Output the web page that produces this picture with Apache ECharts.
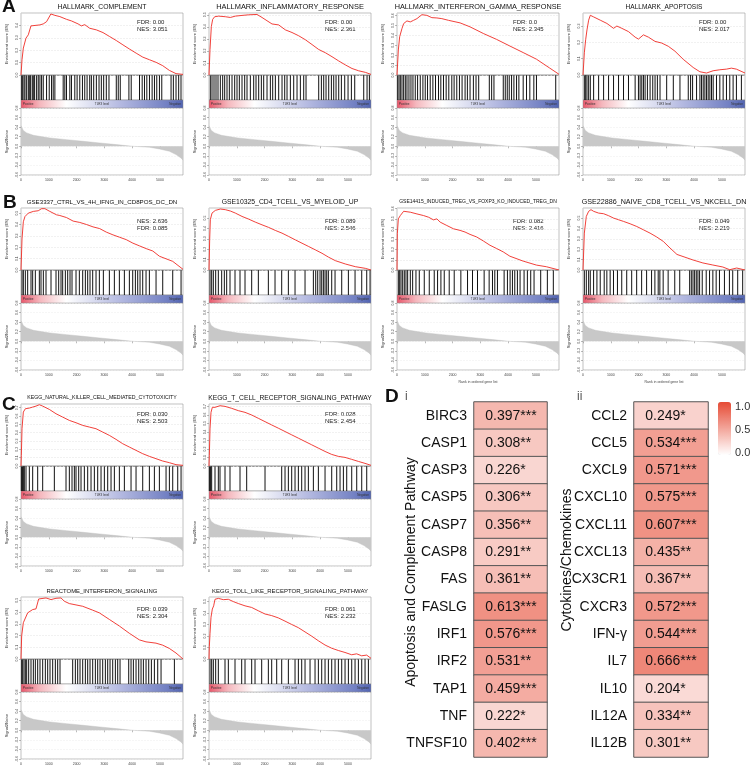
<!DOCTYPE html>
<html>
<head>
<meta charset="utf-8">
<script src="https://cdn.jsdelivr.net/npm/echarts@6/dist/echarts.min.js"></script>
<style>html,body{margin:0;background:#fff}#container{width:753px;height:776px}</style>
</head>
<body>
<div id="container"></div>
<script>
var dom = document.getElementById('container');
var myChart = echarts.init(dom);
var FONT = 'Liberation Sans, Arial, sans-serif';
var RANK_MAX = 5830;

// ---- GSEA data (rank, running enrichment score) ----
var geneSets = ['HALLMARK_COMPLEMENT', 'HALLMARK_INFLAMMATORY_RESPONSE', 'HALLMARK_INTERFERON_GAMMA_RESPONSE', 'HALLMARK_APOPTOSIS',
  'GSE3337_CTRL_VS_4H_IFNG_IN_CD8POS_DC_DN', 'GSE10325_CD4_TCELL_VS_MYELOID_UP', 'GSE14415_INDUCED_TREG_VS_FOXP3_KO_INDUCED_TREG_DN', 'GSE22886_NAIVE_CD8_TCELL_VS_NKCELL_DN',
  'KEGG_NATURAL_KILLER_CELL_MEDIATED_CYTOTOXICITY', 'KEGG_T_CELL_RECEPTOR_SIGNALING_PATHWAY', 'REACTOME_INTERFERON_SIGNALING', 'KEGG_TOLL_LIKE_RECEPTOR_SIGNALING_PATHWAY'];
var nesValues = ['3.051', '2.361', '2.345', '2.017', '2.636', '2.546', '2.416', '2.219', '2.503', '2.454', '2.304', '2.232'];
var fdrValues = ['0.00', '0.00', '0.0', '0.00', '0.085', '0.089', '0.082', '0.049', '0.030', '0.028', '0.039', '0.061'];

var esComplement = [[0,0],[36,0.123],[84,0.217],[179,0.297],[263,0.324],[358,0.396],[681,0.404],[800,0.412],[920,0.43],[1075,0.492],[1219,0.481],[1398,0.471],[1637,0.449],[1816,0.436],[2055,0.412],[2174,0.396],[2294,0.406],[2473,0.377],[2712,0.364],[2951,0.342],[3190,0.31],[3429,0.278],[3668,0.243],[3906,0.209],[4145,0.176],[4384,0.144],[4623,0.123],[4862,0.102],[5101,0.075],[5340,0.037],[5579,0.011],[5830,0.005]];
var esInflammatory = [[0,0],[36,0.212],[84,0.402],[132,0.462],[204,0.484],[348,0.489],[588,0.484],[768,0.478],[948,0.489],[1188,0.495],[1428,0.5],[1727,0.503],[1907,0.478],[2087,0.451],[2267,0.424],[2507,0.416],[2747,0.375],[2987,0.353],[3227,0.326],[3467,0.293],[3707,0.253],[3947,0.212],[4187,0.185],[4427,0.152],[4666,0.117],[4906,0.084],[5146,0.054],[5386,0.035],[5626,0.022],[5830,0.005]];
var esIfng = [[0,0],[48,0.253],[96,0.387],[179,0.47],[239,0.52],[358,0.547],[478,0.537],[597,0.553],[717,0.57],[896,0.61],[1075,0.603],[1254,0.58],[1434,0.577],[1613,0.57],[1852,0.553],[2270,0.527],[2628,0.487],[3106,0.42],[3584,0.36],[4062,0.293],[4540,0.227],[5018,0.16],[5496,0.07],[5830,0.007]];
var esApoptosis = [[0,0],[48,0.136],[96,0.216],[143,0.276],[203,0.336],[263,0.366],[382,0.356],[621,0.336],[860,0.316],[1099,0.286],[1219,0.3],[1398,0.286],[1637,0.266],[1876,0.232],[1995,0.22],[2174,0.246],[2354,0.232],[2592,0.206],[2831,0.196],[3070,0.176],[3309,0.146],[3608,0.096],[3966,0.046],[4205,0.02],[4444,0.012],[4683,0.026],[4922,0.032],[5161,0.036],[5340,0.042],[5519,0.036],[5830,0.012]];
var esGse3337 = [[0,0],[36,0.273],[84,0.424],[143,0.47],[263,0.5],[442,0.515],[621,0.521],[741,0.539],[860,0.539],[1039,0.515],[1278,0.485],[1398,0.479],[1458,0.491],[1637,0.461],[1876,0.43],[2115,0.418],[2354,0.4],[2592,0.379],[2831,0.364],[3070,0.333],[3309,0.309],[3548,0.288],[3787,0.267],[4026,0.236],[4265,0.212],[4504,0.188],[4743,0.167],[4982,0.121],[5460,0.076],[5830,0.006]];
var esGse10325 = [[0,0],[24,0.29],[48,0.484],[108,0.548],[228,0.574],[408,0.587],[588,0.581],[768,0.568],[948,0.548],[1188,0.516],[1428,0.49],[1667,0.461],[1907,0.435],[2147,0.41],[2387,0.381],[2627,0.355],[2867,0.323],[3107,0.29],[3347,0.258],[3587,0.226],[3827,0.194],[4067,0.161],[4306,0.123],[4546,0.09],[4906,0.058],[5266,0.032],[5626,0.016],[5830,0]];
var esGse14415 = [[0,0],[12,0.355],[48,0.5],[119,0.532],[239,0.574],[299,0.581],[478,0.565],[717,0.548],[956,0.532],[1135,0.516],[1314,0.49],[1434,0.5],[1553,0.468],[1792,0.435],[2031,0.403],[2270,0.387],[2449,0.371],[2628,0.348],[2867,0.323],[3106,0.284],[3345,0.242],[3584,0.21],[3823,0.177],[4062,0.135],[4540,0.087],[5018,0.048],[5376,0.032],[5830,0]];
var esGse22886 = [[0,0],[48,0.355],[119,0.516],[203,0.565],[287,0.581],[382,0.565],[561,0.548],[741,0.542],[920,0.523],[1099,0.5],[1278,0.484],[1457,0.468],[1696,0.445],[1935,0.419],[2174,0.387],[2413,0.355],[2652,0.318],[2891,0.275],[3130,0.212],[3381,0.15],[3954,0.097],[4313,0.068],[4671,0.048],[5030,0.029],[5280,0.003],[5531,0.019],[5830,0]];
var esNkCyto = [[0,0],[12,0.128],[36,0.448],[84,0.648],[156,0.688],[300,0.696],[420,0.708],[540,0.72],[660,0.736],[780,0.72],[1020,0.68],[1260,0.628],[1499,0.588],[1739,0.548],[1979,0.52],[2219,0.488],[2459,0.468],[2699,0.448],[2939,0.408],[3179,0.368],[3419,0.32],[3659,0.268],[3899,0.228],[4139,0.188],[4379,0.148],[4619,0.116],[4858,0.088],[5098,0.06],[5338,0.04],[5578,0.016],[5830,0.008]];
var esTcr = [[0,0],[12,0.125],[36,0.436],[72,0.63],[120,0.689],[216,0.689],[396,0.708],[576,0.7],[816,0.677],[1056,0.65],[1296,0.63],[1535,0.599],[1775,0.56],[2015,0.521],[2255,0.482],[2495,0.444],[2735,0.405],[2975,0.366],[3215,0.327],[3455,0.288],[3695,0.249],[3935,0.21],[4175,0.171],[4415,0.136],[4655,0.113],[4894,0.101],[5134,0.078],[5374,0.054],[5614,0.031],[5830,0.008]];
var esReactomeIfn = [[0,0],[24,0.197],[84,0.309],[240,0.393],[420,0.421],[540,0.427],[636,0.511],[900,0.52],[1080,0.506],[1260,0.517],[1439,0.52],[1559,0.492],[1739,0.472],[2219,0.449],[2579,0.416],[2819,0.393],[3179,0.337],[3539,0.281],[3899,0.219],[4259,0.163],[4498,0.146],[4858,0.135],[5098,0.118],[5338,0.09],[5578,0.051],[5830,0]];
var esToll = [[0,0],[12,0.108],[36,0.222],[72,0.364],[120,0.435],[168,0.463],[216,0.52],[336,0.528],[516,0.517],[696,0.52],[876,0.5],[1056,0.483],[1296,0.463],[1535,0.449],[1775,0.42],[2015,0.392],[2255,0.378],[2495,0.358],[2735,0.33],[2975,0.301],[3215,0.273],[3455,0.236],[3695,0.199],[3935,0.159],[4175,0.122],[4415,0.094],[4655,0.074],[4894,0.057],[5134,0.037],[5314,0.045],[5494,0.028],[5674,0.034],[5830,0.006]];

// hit positions (rank of each gene set member)
var hitsComplement = [24,60,108,143,203,263,299,346,406,442,490,562,621,681,741,801,920,1016,1099,1159,1219,1518,1577,1637,1757,1816,1936,2019,2115,2211,2294,2378,2473,2533,2616,2712,2808,2891,2975,3070,3166,3429,3500,3572,3883,3966,4265,4361,4444,4528,4623,4719,4803,4886,4982,5066,5400,5483,5579,5674,5758];
var hitsInflammatory = [48,108,180,252,324,408,492,564,648,732,828,924,1008,1092,1188,1284,1368,1488,1608,1692,1788,1884,1968,2088,2208,2292,2388,2508,2628,2724,2808,2928,3048,3168,3288,3408,3492,3948,4044,4128,4212,4308,4404,4488,4572,4668,4764,4884,5004,5124,5244,5568,5688,5772];
var hitsIfng = [24,72,120,179,239,299,359,430,502,574,657,741,837,932,1016,1099,1195,1291,1386,1494,1577,1673,1769,1864,1972,2055,2151,2247,2342,2450,2533,2629,2749,2844,2940,3322,3406,3489,3824,3896,3968,4039,4123,4207,4302,4386,4541,4661,4780,4924,5019,5712];
var hitsApoptosis = [48,96,143,203,263,382,562,741,920,1099,1279,1458,1637,1876,1995,2055,2115,2175,2235,2318,2414,2510,2593,2677,2772,3011,3250,3489,3788,3872,3944,4087,4207,4266,4326,4386,4446,4505,4565,4625,4685,4804,4924,5043,5163,5282,5402,5521,5700];
var hitsGse3337 = [36,84,156,240,360,420,516,660,720,804,900,1080,1260,1356,1440,1500,1596,1680,1764,1836,1980,2100,2220,2316,2400,2484,2580,2700,2820,2964,3180,3360,3540,3720,3900,4020,4116,4200,4284,4380,4500,4620,4860,5100,5460,5760];
var hitsGse10325 = [36,96,156,240,336,456,552,636,756,936,1116,1296,1536,1776,2136,2376,2616,2856,3096,3456,3756,3840,3912,3996,4056,4116,4176,4236,4296,4416,4536,4776,5016,5256,5496,5676,5796];
var hitsGse14415 = [48,96,144,204,263,323,383,479,563,682,802,981,1161,1340,1460,1580,1700,1879,2059,2298,2538,2717,2897,3136,3316,3436,3519,3615,3855,3974,4070,4154,4238,4333,4429,4573,4692,4812,4932,5171,5411,5626];
var hitsGse22886 = [48,119,203,262,381,501,620,763,858,977,1097,1240,1394,1573,1752,1931,2110,2289,2467,2587,2706,2766,2885,3064,3302,3481,3838,3898,3958,4017,4077,4136,4196,4291,4434,4554,4673,4792,4911,5090,5269,5388,5567,5746];
var hitsNkCyto = [12,36,60,84,120,180,300,420,600,780,1200,1620,1740,1836,1920,1980,2076,2160,2280,2400,2520,2640,2760,2880,3000,3120,3240,3360,3540,3720,3960,4140,4380,4620,4800,4980,5220,5340,5460,5640,5760];
var hitsTcr = [12,36,60,96,216,336,396,576,756,1116,1356,2016,2616,2736,2856,2976,3096,3216,3336,3456,3576,3756,3936,4176,4416,4596,4716,4836,4956,5136,5316,5496,5676];
var hitsReactomeIfn = [24,60,108,156,204,276,360,444,516,600,684,780,876,960,1044,1140,1236,1320,1404,1860,1956,2040,2124,2220,2316,2400,2484,2580,2676,2760,2844,2940,3036,3120,3204,3300,3396,3480,3564,3876,3960,4044,4140,4236,4320,4404,4500,4596,4692,4800,4920,5040,5520];
var hitsToll = [36,96,156,240,336,576,696,936,1176,1296,1536,1656,1896,2136,2256,2436,2616,2856,3096,3216,3336,3456,3636,3816,3936,4056,4176,4296,4416,4536,4656,4776,4896,5016,5136,5256,5376,5496,5616,5736];

// ranked list metric (same list for every panel)
var s2nRank = [0, 84, 203, 442, 1039, 1637, 2234, 2832, 3429, 4026, 4623, 4982, 5340, 5579, 5758, 5830];
var s2nValue = [0.43, 0.33, 0.28, 0.23, 0.174, 0.139, 0.104, 0.07, 0.035, 0, -0.02, -0.056, -0.104, -0.174, -0.244, -0.29];

// ---- correlation heatmap (panel D) ----
var apoptosisGenes = ['BIRC3', 'CASP1', 'CASP3', 'CASP5', 'CASP7', 'CASP8', 'FAS', 'FASLG', 'IRF1', 'IRF2', 'TAP1', 'TNF', 'TNFSF10'];
var apoptosisR = [0.397, 0.308, 0.226, 0.306, 0.356, 0.291, 0.361, 0.613, 0.576, 0.531, 0.459, 0.222, 0.402];
var apoptosisSig = ['***', '**', '*', '**', '**', '**', '**', '***', '***', '**', '***', '*', '***'];
var cytokineGenes = ['CCL2', 'CCL5', 'CXCL9', 'CXCL10', 'CXCL11', 'CXCL13', 'CX3CR1', 'CXCR3', 'IFN-γ', 'IL7', 'IL10', 'IL12A', 'IL12B'];
var cytokineR = [0.249, 0.534, 0.571, 0.575, 0.607, 0.435, 0.367, 0.572, 0.544, 0.666, 0.204, 0.334, 0.301];
var cytokineSig = ['*', '***', '***', '***', '***', '**', '**', '***', '***', '***', '*', '**', '**'];

var esSets = [esComplement, esInflammatory, esIfng, esApoptosis, esGse3337, esGse10325, esGse14415, esGse22886, esNkCyto, esTcr, esReactomeIfn, esToll];
var hitSets = [hitsComplement, hitsInflammatory, hitsIfng, hitsApoptosis, hitsGse3337, hitsGse10325, hitsGse14415, hitsGse22886, hitsNkCyto, hitsTcr, hitsReactomeIfn, hitsToll];

// ---- layout ----
var colX = [21, 209, 397, 583];
var rowY = [7, 202, 398, 591];
var statY = [15, 19, 16, 18];
var panelW = 162;
var cells = [[0,0],[1,0],[2,0],[3,0],[0,1],[1,1],[2,1],[3,1],[0,2],[1,2],[0,3],[1,3]];
var titleW = [89, 148, 167, 77, 151, 137, 158, 165, 150, 164, 111, 156];
var esMax = [0.5, 0.515, 0.627, 0.38, 0.545, 0.597, 0.606, 0.597, 0.745, 0.728, 0.528, 0.54];
var statsNesFirst = [false, false, false, false, true, false, false, false, false, false, false, false];

var ctx = document.createElement('canvas').getContext('2d');
function fitFont(text, w) {
    ctx.font = '10px ' + FONT;
    return 10 * w / ctx.measureText(text).width;
}
function txt(x, y, text, size, extra) {
    var style = {text: text, fontSize: size, fontFamily: FONT, fill: '#111', align: 'left', verticalAlign: 'middle'};
    for (var k in extra) style[k] = extra[k];
    return {type: 'text', x: x, y: y, silent: true, style: style};
}

var grids = [], xAxes = [], yAxes = [], series = [], graphics = [];
var tinyTick = {length: 2, lineStyle: {color: '#777', width: 0.5}};

cells.forEach(function (cell, i) {
    var x = colX[cell[0]], t = rowY[cell[1]];
    var g = grids.length;
    grids.push({left: x, top: t + 6, width: panelW, height: 62, show: true, borderColor: '#999', borderWidth: 0.6});
    grids.push({left: x, top: t + 68, width: panelW, height: 25, show: true, borderColor: '#999', borderWidth: 0.6});
    grids.push({left: x, top: t + 101, width: panelW, height: 67, show: true, borderColor: '#999', borderWidth: 0.6});

    xAxes.push({gridIndex: g, type: 'value', min: 0, max: RANK_MAX, show: false});
    xAxes.push({gridIndex: g + 1, type: 'value', min: 0, max: RANK_MAX, show: false});
    var rankName = (i === 6 || i === 7) ? 'Rank in ordered gene list' : '';
    xAxes.push({gridIndex: g + 2, type: 'value', min: 0, max: RANK_MAX, interval: 1000,
        axisLine: {show: false}, axisTick: tinyTick, splitLine: {show: false},
        axisLabel: {fontSize: 3.5, color: '#444', margin: 3, showMaxLabel: false, formatter: function (v) { return String(v); }},
        name: rankName, nameLocation: 'middle', nameGap: 10, nameTextStyle: {fontSize: 3.5, color: '#444'}});

    yAxes.push({gridIndex: g, type: 'value', min: 0, max: esMax[i], interval: 0.1,
        axisLine: {show: false}, axisTick: tinyTick,
        axisLabel: {fontSize: 3.5, color: '#444', margin: 2, rotate: 90, showMaxLabel: false, formatter: function (v) { return v.toFixed(1); }},
        splitLine: {lineStyle: {type: 'dashed', color: '#e2e2e2', width: 0.5}},
        name: 'Enrichment score (ES)', nameLocation: 'middle', nameGap: 12, nameTextStyle: {fontSize: 4, color: '#333'}});
    yAxes.push({gridIndex: g + 1, type: 'value', min: 0, max: 1, show: false});
    yAxes.push({gridIndex: g + 2, type: 'value', min: -0.6, max: 0.8, interval: 0.2,
        axisLine: {show: false}, axisTick: tinyTick,
        axisLabel: {fontSize: 3.5, color: '#444', margin: 2, rotate: 90, formatter: function (v) { return v.toFixed(1); }},
        splitLine: {lineStyle: {type: 'dashed', color: '#ececec', width: 0.5}},
        name: 'Signal2Noise', nameLocation: 'middle', nameGap: 12, nameTextStyle: {fontSize: 4, color: '#333'}});

    series.push({type: 'line', xAxisIndex: g, yAxisIndex: g, data: esSets[i], symbol: 'none', silent: true,
        lineStyle: {color: '#ef2b25', width: 0.9},
        markLine: {silent: true, symbol: 'none', label: {show: false}, lineStyle: {type: 'dashed', color: '#777', width: 0.6}, data: [{yAxis: 0}]}});
    series.push({type: 'bar', xAxisIndex: g + 1, yAxisIndex: g + 1, barWidth: 1, silent: true,
        itemStyle: {color: '#111'},
        data: hitSets[i].map(function (r) { return [r, 1]; })});
    series.push({type: 'line', xAxisIndex: g + 2, yAxisIndex: g + 2, symbol: 'none', silent: true,
        lineStyle: {color: '#bdbdbd', width: 0.4}, areaStyle: {color: '#c8c8c8', opacity: 1},
        data: s2nRank.map(function (r, k) { return [r, s2nValue[k]]; })});

    // ranked-list colour strip
    graphics.push({type: 'rect', silent: true, shape: {x: x, y: t + 93, width: panelW, height: 8},
        style: {stroke: '#888', lineWidth: 0.5, fill: new echarts.graphic.LinearGradient(0, 0, 1, 0, [
            {offset: 0, color: '#e8566a'}, {offset: 0.12, color: '#f5b8be'}, {offset: 0.28, color: '#ffffff'},
            {offset: 0.6, color: '#b7bce2'}, {offset: 0.9, color: '#7280c3'}, {offset: 1, color: '#5163b1'}])}});
    graphics.push(txt(x + 2, t + 97, 'Positive', 3, {fill: '#333'}));
    graphics.push(txt(x + panelW / 2, t + 97, 'TLR3 level', 3, {fill: '#333', align: 'center'}));
    graphics.push(txt(x + panelW - 2, t + 97, 'Negative', 3, {fill: '#333', align: 'right'}));

    graphics.push(txt(x + panelW / 2, t, geneSets[i], fitFont(geneSets[i], titleW[i]), {align: 'center'}));
    var lines = ['FDR: ' + fdrValues[i], 'NES: ' + nesValues[i]];
    if (statsNesFirst[i]) lines.reverse();
    graphics.push(txt(x + panelW - 46, t + statY[cell[1]], lines[0], 6, {fill: '#222'}));
    graphics.push(txt(x + panelW - 46, t + statY[cell[1]] + 7, lines[1], 6, {fill: '#222'}));
});

// ---- heatmap D ----
var hm = [
    {left: 474, width: 73, genes: apoptosisGenes, r: apoptosisR, sig: apoptosisSig},
    {left: 634, width: 74, genes: cytokineGenes, r: cytokineR, sig: cytokineSig}
];
var hmSeries = [];
hm.forEach(function (h) {
    var g = grids.length;
    grids.push({left: h.left, top: 402, width: h.width, height: 355});
    xAxes.push({gridIndex: g, type: 'category', data: ['r'], show: false});
    yAxes.push({gridIndex: g, type: 'category', data: h.genes, inverse: true,
        axisLine: {show: false}, axisTick: {show: false}, splitLine: {show: false},
        axisLabel: {fontSize: 14, color: '#111', margin: 7}});
    hmSeries.push(series.length);
    series.push({type: 'heatmap', xAxisIndex: g, yAxisIndex: g, silent: true,
        itemStyle: {borderColor: '#555', borderWidth: 1},
        emphasis: {disabled: true},
        label: {show: true, position: 'insideLeft', distance: 12, fontSize: 14, color: '#111',
            formatter: function (p) { return p.value[2].toFixed(3) + h.sig[p.dataIndex]; }},
        data: h.r.map(function (v, k) { return [0, k, v]; })});
});

graphics.push(txt(411, 572, 'Apoptosis and Complement Pathway', 14, {align: 'center'}));
graphics[graphics.length - 1].rotation = Math.PI / 2;
graphics.push(txt(567, 560, 'Cytokines/Chemokines', 14, {align: 'center'}));
graphics[graphics.length - 1].rotation = Math.PI / 2;
graphics.push(txt(405, 397, 'i', 12, {fill: '#555'}));
graphics.push(txt(577, 397, 'ii', 12, {fill: '#555'}));
graphics.push(txt(735, 407, '1.0', 11, {fill: '#333'}));
graphics.push(txt(735, 430, '0.5', 11, {fill: '#333'}));
graphics.push(txt(735, 453, '0.0', 11, {fill: '#333'}));

// panel letters
graphics.push(txt(2, 7, 'A', 19, {fontWeight: 'bold'}));
graphics.push(txt(3, 203, 'B', 19, {fontWeight: 'bold'}));
graphics.push(txt(2, 405, 'C', 19, {fontWeight: 'bold'}));
graphics.push(txt(385, 397, 'D', 19, {fontWeight: 'bold'}));

var option = {
    animation: false,
    backgroundColor: '#fff',
    textStyle: {fontFamily: FONT},
    grid: grids,
    xAxis: xAxes,
    yAxis: yAxes,
    visualMap: {type: 'continuous', min: 0, max: 1, seriesIndex: hmSeries, calculable: false,
        left: 718, top: 402, itemWidth: 13, itemHeight: 53, padding: 0, text: null,
        inRange: {color: ['#ffffff', '#e64b35']}},
    graphic: graphics,
    series: series
};

if (option && typeof option === 'object') {
    myChart.setOption(option);
}
</script>
</body>
</html>
